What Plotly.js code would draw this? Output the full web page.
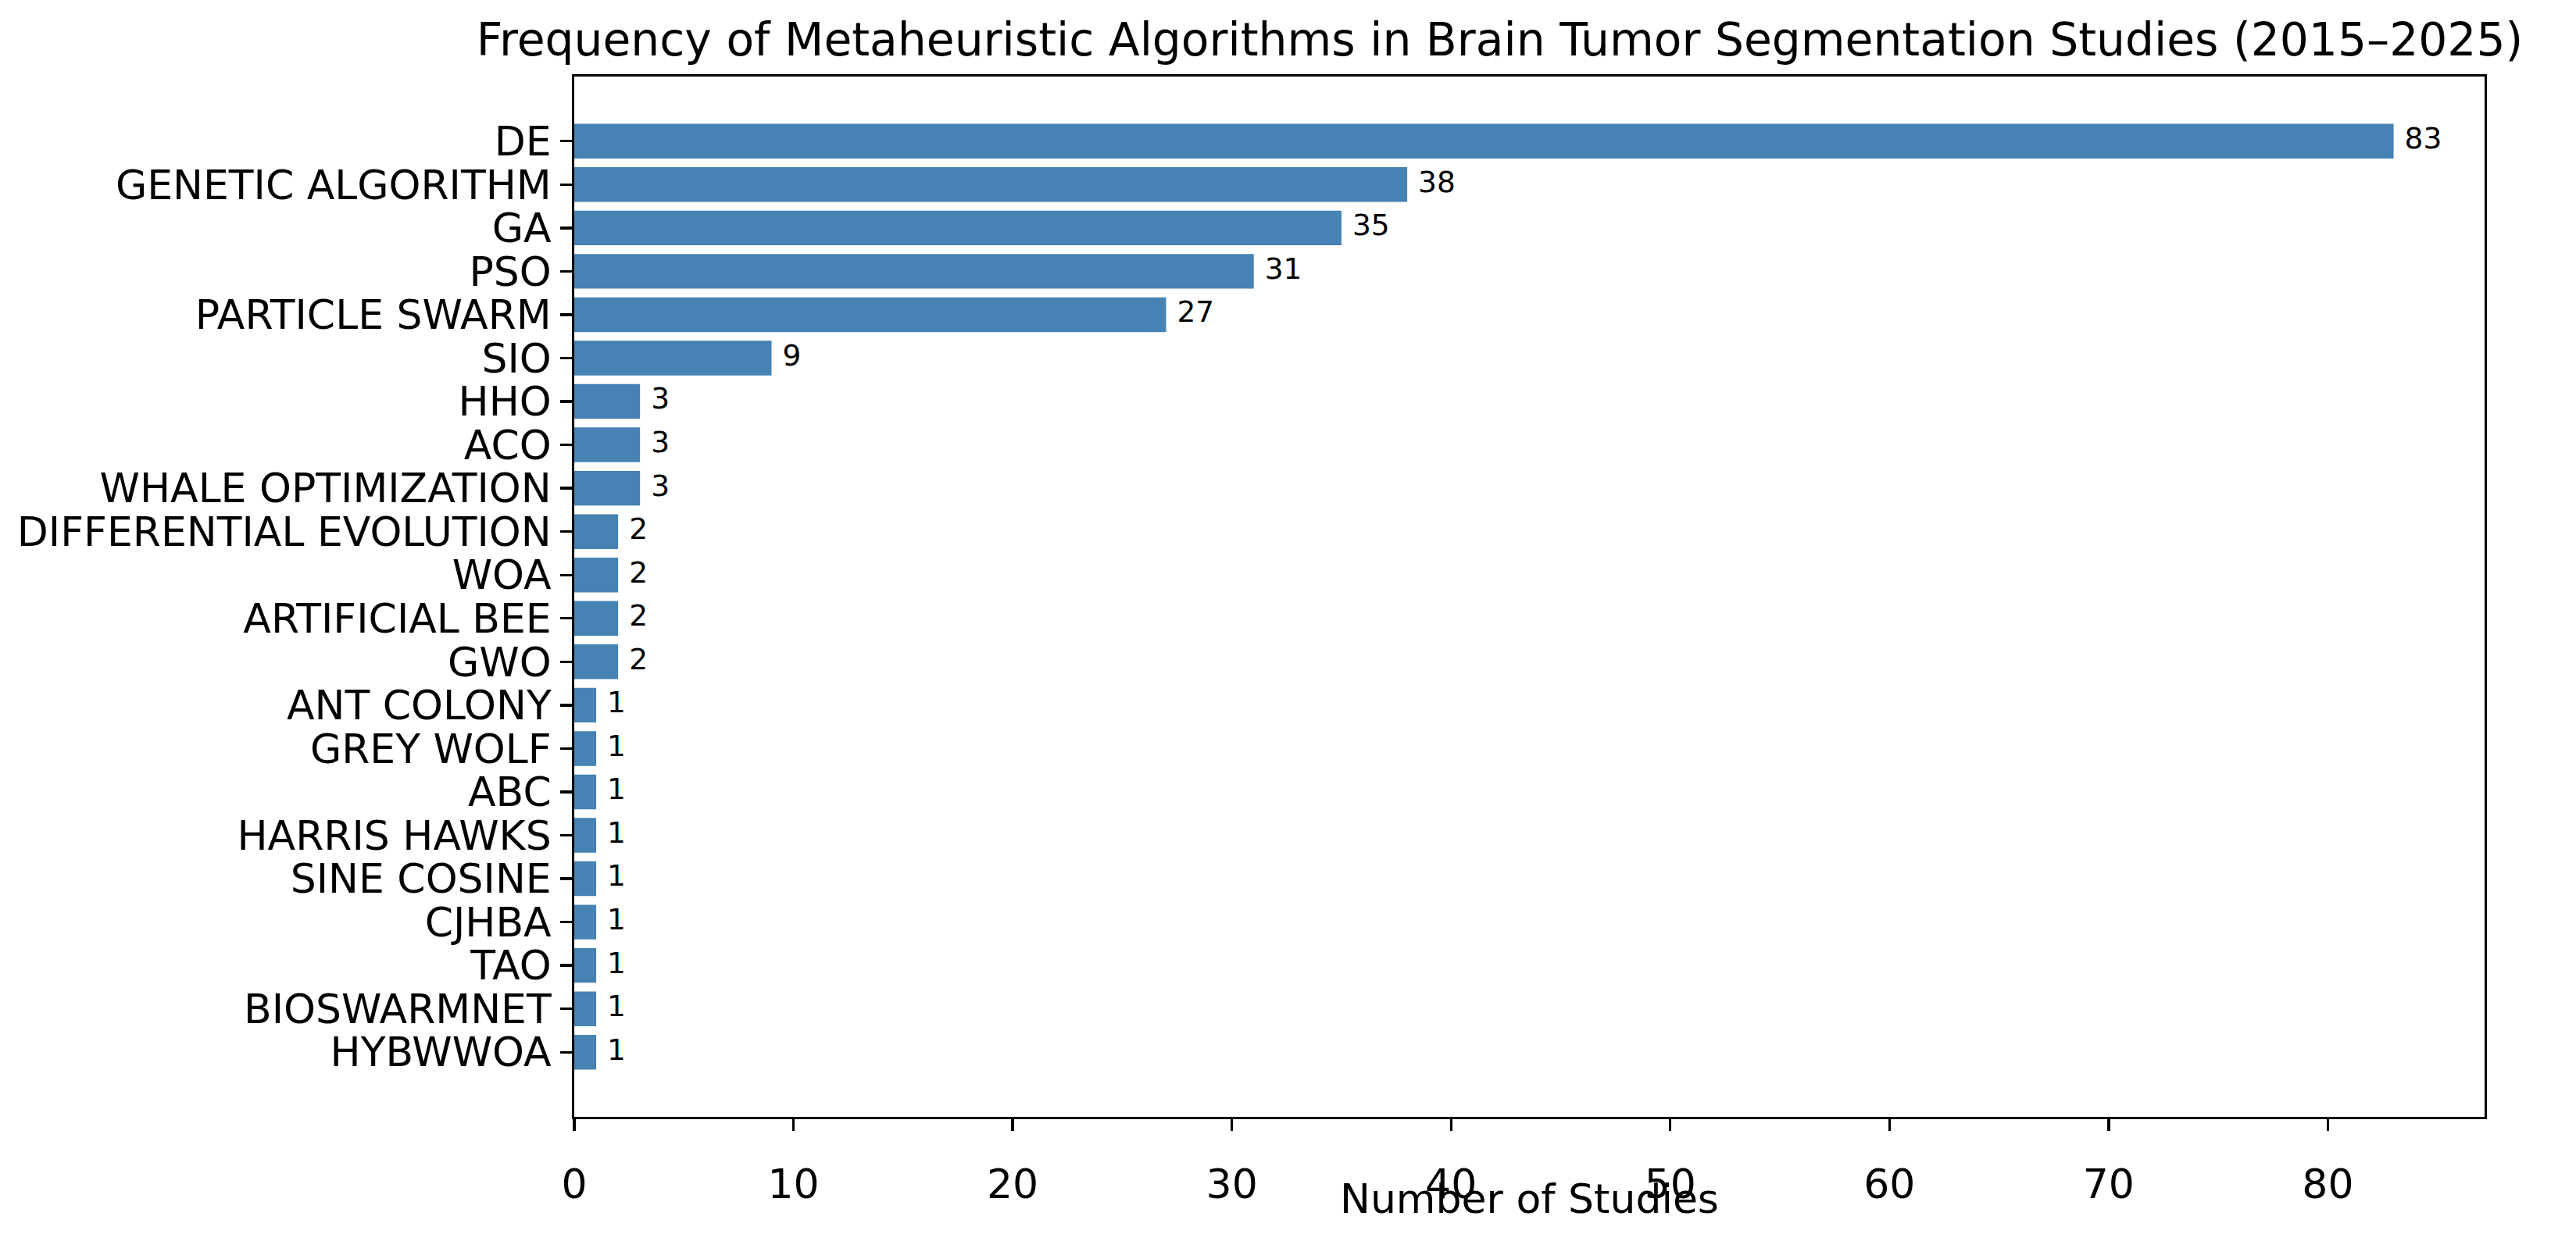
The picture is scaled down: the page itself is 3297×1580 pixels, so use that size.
<!DOCTYPE html>
<html>
<head>
<meta charset="utf-8">
<script src="https://cdn.plot.ly/plotly-3.0.1.min.js"></script>
<style>
  html, body { margin: 0; padding: 0; background: #ffffff; }
  #chart { width: 3297px; height: 1580px; }
</style>
</head>
<body>
<div id="chart"></div>
<script>
// ---- Data ----
const algorithms = [
  "DE", "GENETIC ALGORITHM", "GA", "PSO", "PARTICLE SWARM", "SIO",
  "HHO", "ACO", "WHALE OPTIMIZATION", "DIFFERENTIAL EVOLUTION", "WOA",
  "ARTIFICIAL BEE", "GWO", "ANT COLONY", "GREY WOLF", "ABC",
  "HARRIS HAWKS", "SINE COSINE", "CJHBA", "TAO", "BIOSWARMNET", "HYBWWOA"
];
const studyCounts = [83, 38, 35, 31, 27, 9, 3, 3, 3, 2, 2, 2, 2, 1, 1, 1, 1, 1, 1, 1, 1, 1];
const xTickValues = [0, 10, 20, 30, 40, 50, 60, 70, 80];

const chartTitle = "Frequency of Metaheuristic Algorithms in Brain Tumor Segmentation Studies (2015–2025)";
const xAxisTitle = "Number of Studies";

// ---- Styling ----
const FONT = "DejaVu Sans, Liberation Sans, sans-serif";
const BAR_COLOR = "#4682B4";
const LINE_W = 3.3;

const labelOffset = 0.5; // data units to the right of each bar end

const bars = {
  type: "bar",
  orientation: "h",
  x: studyCounts,
  y: algorithms,
  width: 0.8,
  marker: { color: BAR_COLOR, line: { width: 0 } },
  hoverinfo: "x+y",
  showlegend: false
};

const valueLabels = {
  type: "scatter",
  mode: "text",
  x: studyCounts.map(v => v + labelOffset),
  y: algorithms,
  text: studyCounts.map(v => String(v)),
  textposition: "middle right",
  textfont: { family: FONT, size: 37.5, color: "#000000" },
  hoverinfo: "skip",
  cliponaxis: false,
  showlegend: false
};

const layout = {
  width: 3297,
  height: 1580,
  margin: { l: 735, r: 117, t: 98, b: 150, pad: 0 },
  paper_bgcolor: "#ffffff",
  plot_bgcolor: "#ffffff",
  font: { family: FONT, color: "#000000" },
  showlegend: false,
  title: {
    text: chartTitle,
    font: { family: FONT, size: 58.3, color: "#000000" },
    xref: "paper", x: 0.5 - 38 / 2445, xanchor: "center",
    yref: "container", y: 1 - 51 / 1580, yanchor: "middle"
  },
  annotations: [{
    text: xAxisTitle,
    xref: "paper", x: 0.5, xanchor: "center",
    yref: "paper", y: -(1535 - 1430) / 1332, yanchor: "middle",
    showarrow: false,
    borderpad: 0,
    font: { family: FONT, size: 52, color: "#000000" }
  }],
  xaxis: {
    range: [0, 87.15],
    tickmode: "array",
    tickvals: xTickValues,
    ticktext: xTickValues.map(String),
    ticks: "outside",
    ticklen: 14.6,
    tickwidth: LINE_W,
    tickcolor: "#000000",
    tickfont: { family: FONT, size: 52, color: "#000000" },
    ticklabelstandoff: 24,
    showline: true,
    linecolor: "#000000",
    linewidth: LINE_W,
    mirror: true,
    showgrid: false,
    zeroline: false,
    fixedrange: true,
    automargin: false
  },
  yaxis: {
    type: "category",
    categoryorder: "array",
    categoryarray: algorithms,
    tickmode: "array",
    tickvals: algorithms,
    ticktext: algorithms,
    range: [algorithms.length - 1 + 1.49, -1.49],
    ticks: "outside",
    ticklen: 14.6,
    tickwidth: LINE_W,
    tickcolor: "#000000",
    tickfont: { family: FONT, size: 52, color: "#000000" },
    ticklabelstandoff: 1,
    showline: true,
    linecolor: "#000000",
    linewidth: LINE_W,
    mirror: true,
    showgrid: false,
    zeroline: false,
    fixedrange: true,
    automargin: false
  },
  bargap: 0.2
};

Plotly.newPlot("chart", [bars, valueLabels], layout, { displayModeBar: false, staticPlot: true });
</script>
</body>
</html>
